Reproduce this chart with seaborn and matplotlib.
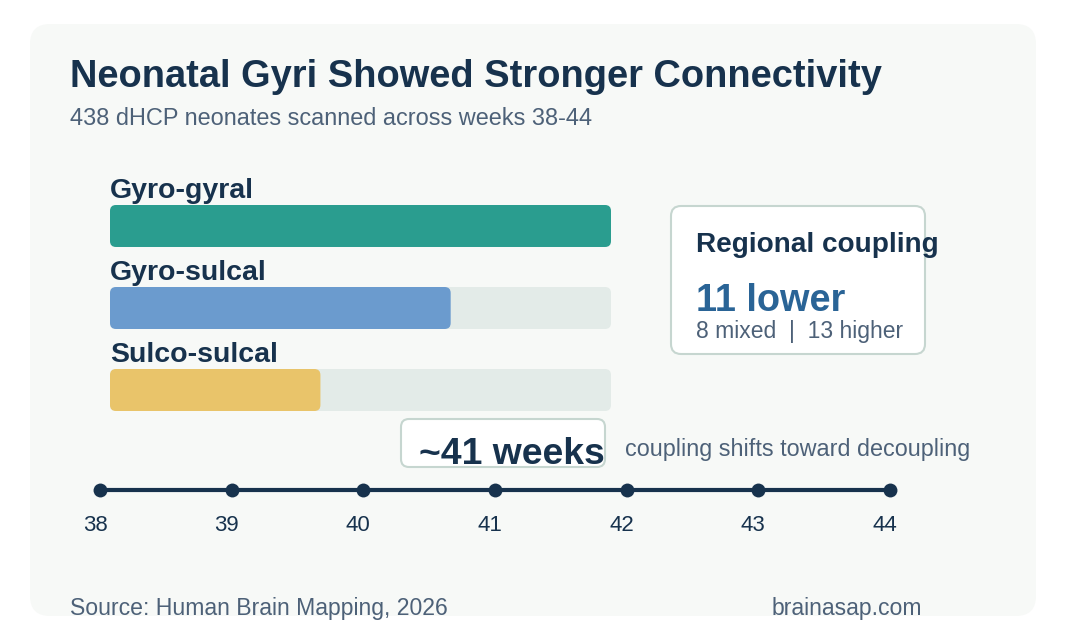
import matplotlib
matplotlib.use("Agg")
import matplotlib.pyplot as plt
from matplotlib.patches import FancyBboxPatch
from matplotlib.transforms import ScaledTranslation
import seaborn as sns

# data
categories = ["Gyro-gyral", "Gyro-sulcal", "Sulco-sulcal"]
strength = [1.00, 0.68, 0.42]
bar_colors = ["#2a9d8f", "#6b9bce", "#e9c46a"]
weeks = [38, 39, 40, 41, 42, 43, 44]
week_labels = [str(w) for w in weeks]
regions_lower, regions_mixed, regions_higher = 11, 8, 13
shift_week = 41

DARK = "#17324d"
GREY = "#4d6178"
TRACK = "#e3ebe8"
CARD = "#f7f9f7"
EDGE = "#c6d6d0"

sns.set_theme(style="white")
plt.rcParams["font.family"] = ["Liberation Sans", "DejaVu Sans"]

fig = plt.figure(figsize=(10.8, 6.4), dpi=100)
fig.patch.set_facecolor("white")

# background layer in pixel coords
bg = fig.add_axes([0, 0, 1, 1])
bg.set_xlim(0, 1080)
bg.set_ylim(640, 0)
bg.axis("off")
bg.add_patch(FancyBboxPatch((30, 24), 1006, 592, boxstyle="round,pad=0,rounding_size=20",
                            fc=CARD, ec="none"))

bg.text(70, 87, "Neonatal Gyri Showed Stronger Connectivity", fontsize=27.4,
        fontweight="bold", color=DARK, va="baseline")
bg.text(70, 125, "438 dHCP neonates scanned across weeks 38-44", fontsize=16.9,
        color=GREY, va="baseline")

# summary card
bg.add_patch(FancyBboxPatch((671, 206), 254, 148, boxstyle="round,pad=0,rounding_size=10",
                            fc="white", ec=EDGE, lw=1.5))
bg.text(696, 252, "Regional coupling", fontsize=20.1, fontweight="bold", color=DARK, va="baseline")
bg.text(696, 311, f"{regions_lower} lower", fontsize=27.3, fontweight="bold", color="#2a6496",
        va="baseline")
bg.text(696, 338, f"{regions_mixed} mixed  |  {regions_higher} higher", fontsize=16.5,
        color=GREY, va="baseline")

# threshold callout
bg.add_patch(FancyBboxPatch((401, 419), 204, 48, boxstyle="round,pad=0,rounding_size=8",
                            fc="white", ec=EDGE, lw=1.5))
bg.text(512, 464, f"~{shift_week} weeks", fontsize=26.8, fontweight="bold", color=DARK,
        ha="center", va="baseline")
bg.text(625, 456, "coupling shifts toward decoupling", fontsize=16.8, color=GREY, va="baseline")

# footer
bg.text(70, 615, "Source: Human Brain Mapping, 2026", fontsize=16.6, color=GREY, va="baseline")
bg.text(922, 615, "brainasap.com", fontsize=16.6, color=GREY, ha="right", va="baseline")

# bars
W, H = 1080, 640
bw = 0.512
axb = fig.add_axes([110 / W, 1 - 411 / H, 501 / W, 206 / H])
sns.barplot(x=[1.0] * len(categories), y=categories, orient="h", color=TRACK,
            width=bw, ax=axb, saturation=1)
sns.barplot(x=strength, y=categories, hue=categories, palette=bar_colors, orient="h",
            width=bw, ax=axb, saturation=1, legend=False)
axb.set_xlim(0, 1)
axb.set_ylim(len(categories) - 1 + bw / 2, -bw / 2)
aspect = (501 / 1.0) / (206 / (len(categories) - 1 + bw))
for p in list(axb.patches):
    x0, y0, w, h = p.get_x(), p.get_y(), p.get_width(), p.get_height()
    fc = p.get_facecolor()
    p.remove()
    axb.add_patch(FancyBboxPatch((x0, y0), w, h,
                                 boxstyle="round,pad=0,rounding_size=0.012",
                                 mutation_aspect=aspect, fc=fc, ec="none"))
for i, c in enumerate(categories):
    axb.text(0, i - bw / 2 - 0.085, c, fontsize=20.5, fontweight="bold", color=DARK,
             va="baseline", ha="left")
axb.axis("off")

# timeline
axt = fig.add_axes([100 / W, 1 - 500 / H, 790 / W, 20 / H])
sns.lineplot(x=weeks, y=[0] * len(weeks), color=DARK, lw=3.0, marker="o", markersize=10,
             markeredgewidth=0, ax=axt, clip_on=False)
axt.set_xlim(weeks[0], weeks[-1])
axt.set_ylim(-1, 1)
axt.set_xticks(weeks)
axt.set_xticklabels(week_labels)
axt.set_yticks([])
axt.tick_params(axis="x", length=0, pad=11, labelsize=16, labelcolor=DARK)
shift = ScaledTranslation(-5 / 100, 0, fig.dpi_scale_trans)
for lab in axt.get_xticklabels():
    lab.set_transform(lab.get_transform() + shift)
axt.set_facecolor("none")
for s in axt.spines.values():
    s.set_visible(False)

fig.savefig("out.png", dpi=100, facecolor="white")
